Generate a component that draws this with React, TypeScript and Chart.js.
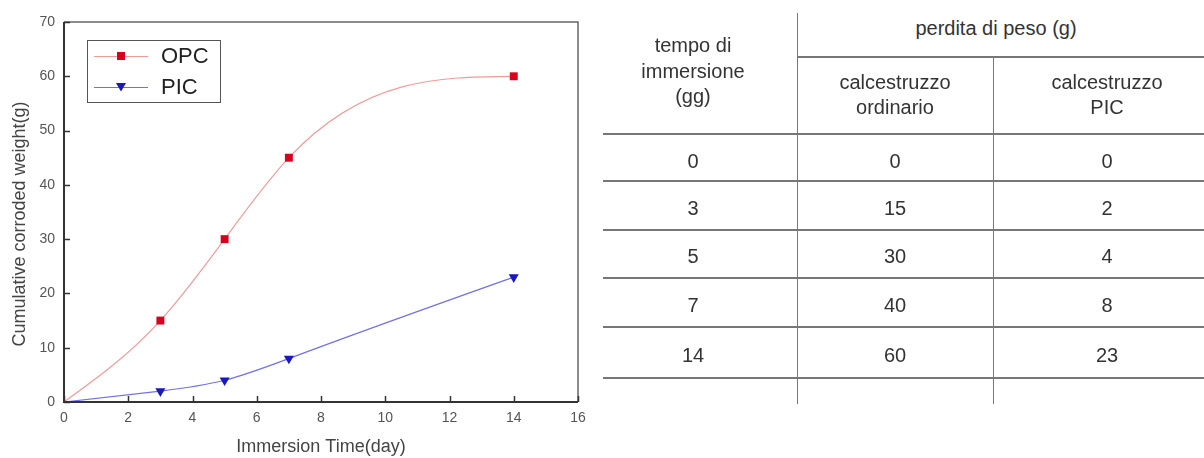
import React, { useEffect, useRef } from 'react';
import { Chart, registerables } from 'chart.js';

Chart.register(...registerables);

// ---- chart data ----
const days = [0, 3, 5, 7, 14];
const opcWeight = [0, 15, 30, 45, 60];
const picWeight = [0, 2, 4, 8, 23];
const seriesNames = ['OPC', 'PIC'];
const xTitle = 'Immersion Time(day)';
const yTitle = 'Cumulative corroded weight(g)';

// ---- table data ----
const headerTime = ['tempo di', 'immersione', '(gg)'];
const headerLoss = 'perdita di peso (g)';
const headerOrdinario = ['calcestruzzo', 'ordinario'];
const headerPIC = ['calcestruzzo', 'PIC'];
const tableDays = ['0', '3', '5', '7', '14'];
const tableOrdinario = ['0', '15', '30', '40', '60'];
const tablePIC = ['0', '2', '4', '8', '23'];

const FONT = '"Liberation Sans", Arial, sans-serif';

// natural cubic spline through the dataset's own (scale-mapped) points
const splinePlugin = {
  id: 'naturalSpline',
  beforeDatasetDraw(chart: any, args: any) {
    const meta = chart.getDatasetMeta(args.index);
    const pts = meta.data;
    const n = pts.length;
    if (n < 3) return;
    const xs = pts.map((p: any) => p.x);
    const ys = pts.map((p: any) => p.y);
    const h: number[] = [];
    const s: number[] = [];
    for (let i = 0; i < n - 1; i++) {
      h[i] = xs[i + 1] - xs[i];
      s[i] = (ys[i + 1] - ys[i]) / h[i];
    }
    const M = new Array(n).fill(0);
    const a: number[] = [], b: number[] = [], c: number[] = [], d: number[] = [];
    for (let i = 1; i < n - 1; i++) {
      a.push(h[i - 1]);
      b.push(2 * (h[i - 1] + h[i]));
      c.push(h[i]);
      d.push(6 * (s[i] - s[i - 1]));
    }
    const m = b.length;
    for (let i = 1; i < m; i++) {
      const w = a[i] / b[i - 1];
      b[i] -= w * c[i - 1];
      d[i] -= w * d[i - 1];
    }
    const sol = new Array(m);
    sol[m - 1] = d[m - 1] / b[m - 1];
    for (let i = m - 2; i >= 0; i--) sol[i] = (d[i] - c[i] * sol[i + 1]) / b[i];
    for (let i = 0; i < m; i++) M[i + 1] = sol[i];
    const slope: number[] = [];
    for (let i = 0; i < n - 1; i++) slope[i] = s[i] - (h[i] * (2 * M[i] + M[i + 1])) / 6;
    slope[n - 1] = s[n - 2] + (h[n - 2] * (M[n - 2] + 2 * M[n - 1])) / 6;
    for (let i = 0; i < n; i++) {
      const p = pts[i];
      if (i < n - 1) {
        p.cp2x = xs[i] + h[i] / 3;
        p.cp2y = ys[i] + (slope[i] * h[i]) / 3;
      } else {
        p.cp2x = xs[i];
        p.cp2y = ys[i];
      }
      if (i > 0) {
        p.cp1x = xs[i] - h[i - 1] / 3;
        p.cp1y = ys[i] - (slope[i] * h[i - 1]) / 3;
      } else {
        p.cp1x = xs[i];
        p.cp1y = ys[i];
      }
    }
    meta.dataset._pointsUpdated = true;
    meta.dataset._path = undefined;
  },
};

const framePlugin = {
  id: 'frameLegend',
  afterDraw(chart: any) {
    const { ctx, chartArea } = chart;
    const { left, right, top, bottom } = chartArea;
    ctx.save();
    ctx.strokeStyle = '#666';
    ctx.lineWidth = 1.5;
    ctx.beginPath();
    ctx.moveTo(left, top);
    ctx.lineTo(right, top);
    ctx.lineTo(right, bottom);
    ctx.stroke();
    ctx.strokeStyle = '#333';
    ctx.lineWidth = 2;
    ctx.beginPath();
    ctx.moveTo(left, top);
    ctx.lineTo(left, bottom);
    ctx.lineTo(right, bottom);
    ctx.stroke();
    ctx.lineWidth = 1.5;
    const xs = chart.scales.x;
    xs.ticks.forEach((t: any) => {
      const px = Math.round(xs.getPixelForValue(t.value)) + 0.5;
      ctx.beginPath();
      ctx.moveTo(px, bottom);
      ctx.lineTo(px, bottom - 6);
      ctx.stroke();
    });
    const ys = chart.scales.y;
    ys.ticks.forEach((t: any) => {
      const py = Math.round(ys.getPixelForValue(t.value)) + 0.5;
      ctx.beginPath();
      ctx.moveTo(left, py);
      ctx.lineTo(left + 6, py);
      ctx.stroke();
    });

    // y axis title
    ctx.save();
    ctx.translate(20, (top + bottom) / 2 + 12);
    ctx.rotate(-Math.PI / 2);
    ctx.fillStyle = '#444';
    ctx.font = `18px ${FONT}`;
    ctx.textAlign = 'center';
    ctx.textBaseline = 'middle';
    ctx.fillText(yTitle, 0, 0);
    ctx.restore();

    // legend
    const bx = 87.5, by = 40.5, bw = 133, bh = 62;
    ctx.strokeStyle = '#555';
    ctx.lineWidth = 1;
    ctx.strokeRect(bx, by, bw, bh);
    const rows = [56, 87];
    chart.data.datasets.forEach((ds: any, i: number) => {
      const y = rows[i];
      ctx.strokeStyle = ds.borderColor;
      ctx.lineWidth = 1;
      ctx.beginPath();
      ctx.moveTo(94, y + 0.5);
      ctx.lineTo(148, y + 0.5);
      ctx.stroke();
      ctx.fillStyle = ds.pointBackgroundColor;
      const cx = 121;
      if (i === 0) {
        ctx.fillRect(cx - 4, y - 4, 8, 8);
      } else {
        ctx.beginPath();
        ctx.moveTo(cx - 5, y - 4);
        ctx.lineTo(cx + 5, y - 4);
        ctx.lineTo(cx, y + 4.5);
        ctx.closePath();
        ctx.fill();
      }
      ctx.fillStyle = '#222';
      ctx.font = `22px ${FONT}`;
      ctx.textAlign = 'left';
      ctx.textBaseline = 'middle';
      ctx.fillText(ds.label, 161, y + 1);
    });
    ctx.restore();
  },
};

function ChartPanel() {
  const ref = useRef<HTMLCanvasElement | null>(null);
  useEffect(() => {
    if (!ref.current) return;
    const opcPts = days.map((d, i) => ({ x: d, y: opcWeight[i] }));
    const picPts = days.map((d, i) => ({ x: d, y: picWeight[i] }));
    const chart = new Chart(ref.current, {
      type: 'line',
      data: {
        datasets: [
          {
            label: seriesNames[0],
            data: opcPts,
            borderColor: '#f29a9a',
            borderWidth: 1.2,
            pointBackgroundColor: '#d8001e',
            pointBorderColor: '#d8001e',
            pointBorderWidth: 0,
            pointStyle: 'rect',
            pointRadius: (c: any) => (c.dataIndex === 0 ? 0 : 5.6),
            tension: 0.4,
            fill: false,
          },
          {
            label: seriesNames[1],
            data: picPts,
            borderColor: '#7070ea',
            borderWidth: 1.2,
            pointBackgroundColor: '#1818c0',
            pointBorderColor: '#1818c0',
            pointBorderWidth: 0,
            pointStyle: 'triangle',
            pointRotation: 180,
            pointRadius: (c: any) => (c.dataIndex === 0 ? 0 : 5.8),
            tension: 0.4,
            fill: false,
          },
        ],
      },
      options: {
        responsive: false,
        animation: false,
        devicePixelRatio: 1,
        layout: { padding: { top: 22, right: 17, left: 0, bottom: 0 } },
        plugins: { legend: { display: false }, tooltip: { enabled: false } },
        scales: {
          x: {
            type: 'linear',
            min: 0,
            max: 16,
            ticks: { stepSize: 2, color: '#555', padding: 8, font: { size: 14, family: FONT } },
            grid: { display: false, drawTicks: false },
            border: { display: false },
            title: {
              display: true,
              text: xTitle,
              color: '#444',
              font: { size: 18, family: FONT },
              padding: { top: 0, bottom: 0 },
            },
            afterFit: (s: any) => {
              s.height = 56;
            },
          },
          y: {
            type: 'linear',
            min: 0,
            max: 70,
            ticks: { stepSize: 10, color: '#555', padding: 9, font: { size: 14, family: FONT } },
            grid: { display: false, drawTicks: false },
            border: { display: false },
            title: { display: false },
            afterFit: (s: any) => {
              s.width = 64;
            },
          },
        },
      } as any,
      plugins: [splinePlugin, framePlugin],
    });
    return () => chart.destroy();
  }, []);
  return (
    <canvas
      ref={ref}
      width={595}
      height={458}
      style={{ position: 'absolute', left: 0, top: 0, width: 595, height: 458 }}
    />
  );
}

const lineColor = '#777';

function HLine({ x1, x2, y }: { x1: number; x2: number; y: number }) {
  return (
    <div
      style={{ position: 'absolute', left: x1, top: y - 0.75, width: x2 - x1, height: 1.5, background: lineColor }}
    />
  );
}

function VLine({ x, y1, y2 }: { x: number; y1: number; y2: number }) {
  return (
    <div
      style={{ position: 'absolute', left: x - 0.75, top: y1, width: 1.5, height: y2 - y1, background: lineColor }}
    />
  );
}

function TextBlock({ cx, cy, lines, lh }: { cx: number; cy: number; lines: string[]; lh: number }) {
  return (
    <div
      style={{
        position: 'absolute',
        left: cx - 120,
        width: 240,
        top: cy - (lh * lines.length) / 2,
        textAlign: 'center',
        fontFamily: FONT,
        fontSize: 20,
        lineHeight: `${lh}px`,
        color: '#333',
        whiteSpace: 'nowrap',
      }}
    >
      {lines.map((l, i) => (
        <div key={i}>{l}</div>
      ))}
    </div>
  );
}

function TablePanel() {
  const rowLines = [134, 181, 230, 278, 327, 378];
  const rowCenters = [161, 208, 256, 304.5, 355];
  const col1 = 693;
  const col2 = 895;
  const col3 = 1107;
  return (
    <>
      <HLine x1={797} x2={1204} y={57} />
      {rowLines.map((y, i) => (
        <HLine key={i} x1={603} x2={1204} y={y} />
      ))}
      <VLine x={797.5} y1={13} y2={404} />
      <VLine x={993.5} y1={57} y2={404} />
      <TextBlock cx={col1} cy={71.5} lines={headerTime} lh={25.5} />
      <TextBlock cx={996} cy={28} lines={[headerLoss]} lh={24} />
      <TextBlock cx={col2} cy={94.5} lines={headerOrdinario} lh={25} />
      <TextBlock cx={col3} cy={94.5} lines={headerPIC} lh={25} />
      {tableDays.map((v, i) => (
        <TextBlock key={'d' + i} cx={col1} cy={rowCenters[i]} lines={[v]} lh={24} />
      ))}
      {tableOrdinario.map((v, i) => (
        <TextBlock key={'o' + i} cx={col2} cy={rowCenters[i]} lines={[v]} lh={24} />
      ))}
      {tablePIC.map((v, i) => (
        <TextBlock key={'p' + i} cx={col3} cy={rowCenters[i]} lines={[v]} lh={24} />
      ))}
    </>
  );
}

export default function App() {
  return (
    <div
      style={{
        position: 'fixed',
        left: 0,
        top: 0,
        width: 1204,
        height: 458,
        overflow: 'hidden',
        background: '#fff',
      }}
    >
      <ChartPanel />
      <TablePanel />
    </div>
  );
}
